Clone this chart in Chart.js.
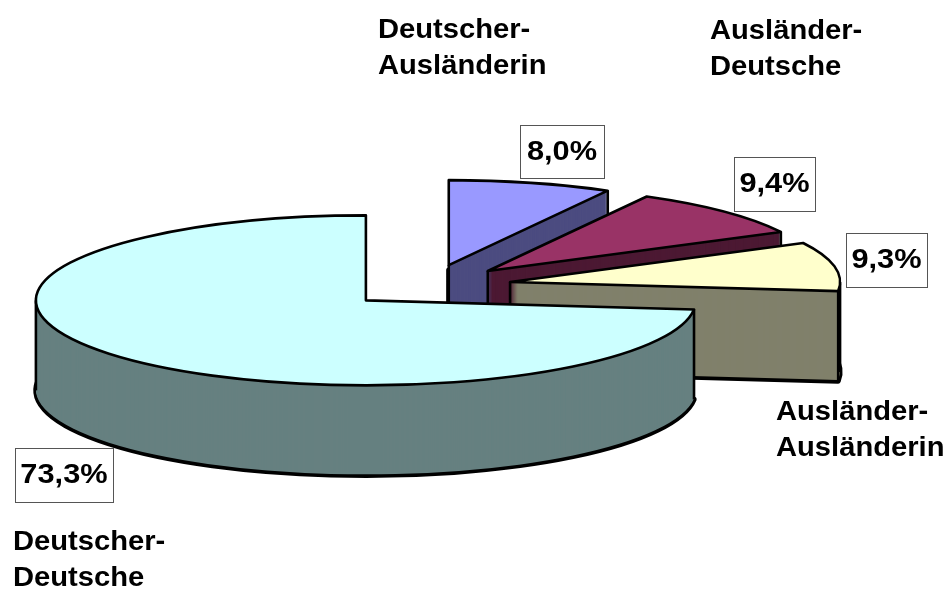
<!DOCTYPE html>
<html>
<head>
<meta charset="utf-8">
<script src="https://cdn.jsdelivr.net/npm/chart.js@4.4.1/dist/chart.umd.min.js"></script>
<style>
  html, body { margin: 0; padding: 0; background: #fff; }
</style>
</head>
<body>
<canvas id="pieChart" width="947" height="589"></canvas>
<script>
// Daten: Anteile der Paarkonstellationen
const categories = ['Deutscher-Ausländerin', 'Ausländer-Deutsche', 'Ausländer-Ausländerin', 'Deutscher-Deutsche'];
const percentages = [8.0, 9.4, 9.3, 73.3];

// Farben (Deckfläche / Seitenwand)
const topColors = ['#9999FF', '#993366', '#FFFFCC', '#CCFFFF'];
const sideColors = ['#4C4C80', '#4C1933', '#80806B', '#668080'];

// Layout der 3D-Torte
const CX = 428, CY = 286;     // Mittelpunkt der Ellipse
const RX = 330, RY = 85;      // Halbachsen
const DEPTH = 90;             // Höhe der Seitenwand
const EXPLODE = 0.253;        // Herausgezogene Stücke (Anteil des Radius)
const LINE = 2.6;

// Beschriftungen (links, erste Grundlinie) und Wertekästen (x, y, b, h)
const labelPos = [[378, 38], [710, 39], [776, 420], [13, 550]];
const boxPos = [[520, 125, 84, 53], [734, 157, 81, 54], [846, 233, 81, 54], [15, 448, 98, 54]];

function slicePath(ctx, arc, dy) {
    const R = arc.outerRadius;
    const mid = (arc.startAngle + arc.endAngle) / 2;
    ctx.save();
    ctx.translate(CX, CY + dy);
    ctx.scale(RX / R, RY / R);
    ctx.translate(Math.cos(mid) * EXPLODE * R, Math.sin(mid) * EXPLODE * R);
    ctx.beginPath();
    ctx.moveTo(0, 0);
    ctx.arc(0, 0, R, arc.startAngle, arc.endAngle);
    ctx.closePath();
    ctx.restore();
}

function inSector(a, a0, a1) {
    return [a, a + 2 * Math.PI, a - 2 * Math.PI].some(v => v > a0 && v < a1);
}

function drawSlice(ctx, arc, i) {
    const a0 = arc.startAngle, a1 = arc.endAngle;
    const mid = (a0 + a1) / 2;
    const ox = Math.cos(mid) * EXPLODE, oy = Math.sin(mid) * EXPLODE;

    ctx.save();
    ctx.strokeStyle = '#000';
    ctx.lineJoin = 'round';

    // Boden + Seitenwände (Bodenkante doppelt so breit, die obere Hälfte wird verdeckt)
    ctx.fillStyle = sideColors[i];
    slicePath(ctx, arc, DEPTH);
    ctx.fill();
    ctx.lineWidth = LINE * 2;
    ctx.stroke();
    for (let d = DEPTH - 1; d > 0; d--) {
        slicePath(ctx, arc, d);
        ctx.fill();
    }

    // senkrechte Kanten
    ctx.lineWidth = LINE;
    const startWall = Math.cos(a0) < -1e-6;
    const endWall = Math.cos(a1) > 1e-6;
    const pts = [];
    if (startWall || endWall) pts.push([ox, oy]);
    if (startWall || Math.sin(a0) > 0) pts.push([ox + Math.cos(a0), oy + Math.sin(a0)]);
    if (endWall || Math.sin(a1) > 0) pts.push([ox + Math.cos(a1), oy + Math.sin(a1)]);
    [0, Math.PI].forEach(a => {
        if (inSector(a, a0, a1)) pts.push([ox + Math.cos(a), oy + Math.sin(a)]);
    });
    pts.forEach(([u, v]) => {
        const x = CX + u * RX, y = CY + v * RY;
        ctx.beginPath();
        ctx.moveTo(x, y);
        ctx.lineTo(x, y + DEPTH);
        ctx.stroke();
    });

    // Deckfläche
    ctx.fillStyle = topColors[i];
    slicePath(ctx, arc, 0);
    ctx.fill();
    ctx.stroke();
    ctx.restore();
}

function stretchedText(ctx, text, x, y, sx, align) {
    ctx.save();
    ctx.translate(x, y);
    ctx.scale(sx, 1);
    ctx.textAlign = align;
    ctx.fillText(text, 0, 0);
    ctx.restore();
}

const pie3d = {
    id: 'pie3d',
    beforeDatasetsDraw(chart) {
        const meta = chart.getDatasetMeta(0);
        meta.data.forEach((arc, i) => drawSlice(chart.ctx, arc, i));
        return false;
    },
    afterDraw(chart) {
        const ctx = chart.ctx;
        ctx.save();
        ctx.fillStyle = '#000';
        ctx.font = 'bold 27px "Liberation Sans", Arial, sans-serif';

        // Kategorien
        ctx.textBaseline = 'alphabetic';
        categories.forEach((cat, i) => {
            const lines = cat.split(/(?<=-)/);
            lines.forEach((line, j) => {
                stretchedText(ctx, line, labelPos[i][0], labelPos[i][1] + j * 36, 1.08, 'left');
            });
        });

        // Wertekästen
        ctx.textBaseline = 'middle';
        percentages.forEach((v, i) => {
            const [bx, by, bw, bh] = boxPos[i];
            ctx.fillStyle = '#fff';
            ctx.fillRect(bx, by, bw, bh);
            ctx.strokeStyle = '#555';
            ctx.lineWidth = 1;
            ctx.strokeRect(bx + 0.5, by + 0.5, bw, bh);
            ctx.fillStyle = '#000';
            const txt = v.toFixed(1).replace('.', ',') + '%';
            stretchedText(ctx, txt, bx + bw / 2, by + bh / 2 + 1, 1.14, 'center');
        });
        ctx.restore();
    }
};

document.addEventListener('DOMContentLoaded', () => {
    const ctx = document.getElementById('pieChart').getContext('2d');
    new Chart(ctx, {
        type: 'pie',
        data: {
            labels: categories,
            datasets: [{
                data: percentages,
                backgroundColor: topColors,
                borderColor: '#000',
                borderWidth: 2
            }]
        },
        options: {
            responsive: false,
            animation: false,
            plugins: {
                legend: { display: false },
                tooltip: { enabled: false }
            }
        },
        plugins: [pie3d]
    });
});
</script>
</body>
</html>
